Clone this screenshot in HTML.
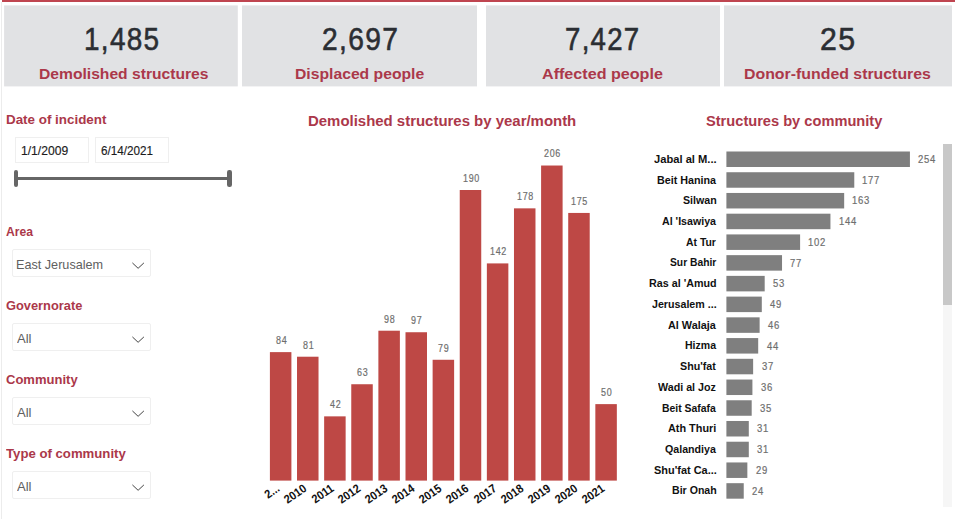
<!DOCTYPE html>
<html><head><meta charset="utf-8"><title>Dashboard</title>
<style>
html,body{margin:0;padding:0;background:#fff;}
body{width:955px;height:519px;position:relative;overflow:hidden;font-family:"Liberation Sans",sans-serif;}
.t{position:absolute;white-space:nowrap;}
.b{position:absolute;}
</style></head><body>
<div class="b" style="left:2px;top:0px;width:953px;height:2px;background:#bf4550;"></div>
<div class="b" style="left:1px;top:2px;width:1px;height:517px;background:#ececec;"></div>
<svg class="b" style="left:0;top:0" width="955" height="100"><rect x="4.1" y="5.4" width="233.70" height="81" fill="#e1e2e4"/></svg>
<div class="t" style="left:84.01px;top:22.71px;font-size:32px;line-height:32px;color:#2b2e33;transform:scaleX(0.8722);transform-origin:0 0;letter-spacing:1.5px;-webkit-text-stroke:0.6px #2b2e33;">1,485</div>
<div class="t" style="left:39.08px;top:65.90px;font-size:15px;line-height:15px;color:#ab384a;transform:scaleX(1.0427);transform-origin:0 0;font-weight:bold;">Demolished structures</div>
<svg class="b" style="left:0;top:0" width="955" height="100"><rect x="242" y="5.4" width="235.00" height="81" fill="#e1e2e4"/></svg>
<div class="t" style="left:321.59px;top:22.71px;font-size:32px;line-height:32px;color:#2b2e33;transform:scaleX(0.8811);transform-origin:0 0;letter-spacing:1.5px;-webkit-text-stroke:0.6px #2b2e33;">2,697</div>
<div class="t" style="left:295.18px;top:65.90px;font-size:15px;line-height:15px;color:#ab384a;transform:scaleX(1.0472);transform-origin:0 0;font-weight:bold;">Displaced people</div>
<svg class="b" style="left:0;top:0" width="955" height="100"><rect x="486" y="5.4" width="234.00" height="81" fill="#e1e2e4"/></svg>
<div class="t" style="left:565.32px;top:22.71px;font-size:32px;line-height:32px;color:#2b2e33;transform:scaleX(0.8619);transform-origin:0 0;letter-spacing:1.5px;-webkit-text-stroke:0.6px #2b2e33;">7,427</div>
<div class="t" style="left:542.10px;top:65.90px;font-size:15px;line-height:15px;color:#ab384a;transform:scaleX(1.0745);transform-origin:0 0;font-weight:bold;">Affected people</div>
<svg class="b" style="left:0;top:0" width="955" height="100"><rect x="724" y="5.4" width="228.00" height="81" fill="#e1e2e4"/></svg>
<div class="t" style="left:819.99px;top:22.71px;font-size:32px;line-height:32px;color:#2b2e33;transform:scaleX(0.9461);transform-origin:0 0;letter-spacing:1.5px;-webkit-text-stroke:0.6px #2b2e33;">25</div>
<div class="t" style="left:744.47px;top:65.90px;font-size:15px;line-height:15px;color:#ab384a;transform:scaleX(1.0581);transform-origin:0 0;font-weight:bold;">Donor-funded structures</div>
<div class="t" style="left:308.43px;top:113.85px;font-size:14px;line-height:14px;color:#ab384a;transform:scaleX(1.0675);transform-origin:0 0;font-weight:bold;">Demolished structures by year/month</div>
<div class="t" style="left:706.03px;top:114.05px;font-size:14px;line-height:14px;color:#ab384a;transform:scaleX(1.0444);transform-origin:0 0;font-weight:bold;">Structures by community</div>
<div class="t" style="left:6.43px;top:112.57px;font-size:13.5px;line-height:13.5px;color:#ab384a;transform:scaleX(0.9920);transform-origin:0 0;font-weight:bold;">Date of incident</div>
<div class="b" style="left:15px;top:137px;width:73.5px;height:25.5px;background:#fff;border:1px solid #efefef;box-sizing:border-box;"></div>
<div class="b" style="left:95px;top:137px;width:73.5px;height:25.5px;background:#fff;border:1px solid #efefef;box-sizing:border-box;"></div>
<div class="t" style="left:21.39px;top:145.22px;font-size:12.5px;line-height:12.5px;color:#1c1c1c;transform:scaleX(0.9698);transform-origin:0 0;-webkit-text-stroke:0.15px #1c1c1c;">1/1/2009</div>
<div class="t" style="left:101.41px;top:145.22px;font-size:12.5px;line-height:12.5px;color:#1c1c1c;transform:scaleX(0.9369);transform-origin:0 0;-webkit-text-stroke:0.15px #1c1c1c;">6/14/2021</div>
<div class="b" style="left:16px;top:176.5px;width:213px;height:3.0px;background:#666;"></div>
<div class="b" style="left:13.6px;top:170px;width:4.299999999999999px;height:16.5px;background:#666;border-radius:2.2px;"></div>
<div class="b" style="left:227.3px;top:170px;width:4.299999999999983px;height:16.5px;background:#666;border-radius:2.2px;"></div>
<div class="t" style="left:6.10px;top:224.97px;font-size:13.5px;line-height:13.5px;color:#ab384a;transform:scaleX(0.8983);transform-origin:0 0;font-weight:bold;">Area</div>
<div class="b" style="left:11.5px;top:249px;width:139.0px;height:27.5px;background:#fff;border:1px solid #efefef;box-sizing:border-box;border-radius:2px;"></div>
<div class="t" style="left:16.29px;top:257.87px;font-size:13.5px;line-height:13.5px;color:#606060;transform:scaleX(0.9361);transform-origin:0 0;">East Jerusalem</div>
<svg class="b" style="left:131px;top:261px" width="14" height="9" viewBox="0 0 14 9"><path d="M1.4 1.9 L7.1 7.3 L12.9 1.9" fill="none" stroke="#444" stroke-width="1"/></svg>
<div class="t" style="left:5.89px;top:298.97px;font-size:13.5px;line-height:13.5px;color:#ab384a;transform:scaleX(0.9507);transform-origin:0 0;font-weight:bold;">Governorate</div>
<div class="b" style="left:11.5px;top:323px;width:139.0px;height:27.5px;background:#fff;border:1px solid #efefef;box-sizing:border-box;border-radius:2px;"></div>
<div class="t" style="left:17.30px;top:331.87px;font-size:13.5px;line-height:13.5px;color:#606060;transform:scaleX(0.9665);transform-origin:0 0;">All</div>
<svg class="b" style="left:131px;top:335px" width="14" height="9" viewBox="0 0 14 9"><path d="M1.4 1.9 L7.1 7.3 L12.9 1.9" fill="none" stroke="#444" stroke-width="1"/></svg>
<div class="t" style="left:5.88px;top:372.97px;font-size:13.5px;line-height:13.5px;color:#ab384a;transform:scaleX(0.9646);transform-origin:0 0;font-weight:bold;">Community</div>
<div class="b" style="left:11.5px;top:397px;width:139.0px;height:27.5px;background:#fff;border:1px solid #efefef;box-sizing:border-box;border-radius:2px;"></div>
<div class="t" style="left:17.30px;top:405.87px;font-size:13.5px;line-height:13.5px;color:#606060;transform:scaleX(0.9665);transform-origin:0 0;">All</div>
<svg class="b" style="left:131px;top:409px" width="14" height="9" viewBox="0 0 14 9"><path d="M1.4 1.9 L7.1 7.3 L12.9 1.9" fill="none" stroke="#444" stroke-width="1"/></svg>
<div class="t" style="left:6.27px;top:446.97px;font-size:13.5px;line-height:13.5px;color:#ab384a;transform:scaleX(0.9757);transform-origin:0 0;font-weight:bold;">Type of community</div>
<div class="b" style="left:11.5px;top:471px;width:139.0px;height:27.5px;background:#fff;border:1px solid #efefef;box-sizing:border-box;border-radius:2px;"></div>
<div class="t" style="left:17.30px;top:479.87px;font-size:13.5px;line-height:13.5px;color:#606060;transform:scaleX(0.9665);transform-origin:0 0;">All</div>
<svg class="b" style="left:131px;top:483px" width="14" height="9" viewBox="0 0 14 9"><path d="M1.4 1.9 L7.1 7.3 L12.9 1.9" fill="none" stroke="#444" stroke-width="1"/></svg>
<div class="t" style="left:275.69px;top:334.91px;font-size:11px;line-height:11px;color:#6e6e6e;transform:scaleX(0.8137);transform-origin:0 0;letter-spacing:0.8px;-webkit-text-stroke:0.2px #6e6e6e;">84</div>
<div class="t" style="left:257.67px;top:482.40px;width:16.68px;font-size:12px;line-height:12px;font-weight:bold;color:#111;text-align:right;transform-origin:100% 0;transform:rotate(-35deg) scaleX(0.91);">2...</div>
<div class="t" style="left:302.90px;top:339.50px;font-size:11px;line-height:11px;color:#6e6e6e;transform:scaleX(0.8137);transform-origin:0 0;letter-spacing:0.8px;-webkit-text-stroke:0.2px #6e6e6e;">81</div>
<div class="t" style="left:274.77px;top:482.40px;width:26.70px;font-size:12px;line-height:12px;font-weight:bold;color:#111;text-align:right;transform-origin:100% 0;transform:rotate(-35deg) scaleX(0.91);">2010</div>
<div class="t" style="left:330.11px;top:399.15px;font-size:11px;line-height:11px;color:#6e6e6e;transform:scaleX(0.8137);transform-origin:0 0;letter-spacing:0.8px;-webkit-text-stroke:0.2px #6e6e6e;">42</div>
<div class="t" style="left:302.56px;top:482.40px;width:26.03px;font-size:12px;line-height:12px;font-weight:bold;color:#111;text-align:right;transform-origin:100% 0;transform:rotate(-35deg) scaleX(0.91);">2011</div>
<div class="t" style="left:357.07px;top:367.03px;font-size:11px;line-height:11px;color:#6e6e6e;transform:scaleX(0.8137);transform-origin:0 0;letter-spacing:0.8px;-webkit-text-stroke:0.2px #6e6e6e;">63</div>
<div class="t" style="left:329.01px;top:482.40px;width:26.70px;font-size:12px;line-height:12px;font-weight:bold;color:#111;text-align:right;transform-origin:100% 0;transform:rotate(-35deg) scaleX(0.91);">2012</div>
<div class="t" style="left:384.21px;top:313.50px;font-size:11px;line-height:11px;color:#6e6e6e;transform:scaleX(0.8137);transform-origin:0 0;letter-spacing:0.8px;-webkit-text-stroke:0.2px #6e6e6e;">98</div>
<div class="t" style="left:356.13px;top:482.40px;width:26.70px;font-size:12px;line-height:12px;font-weight:bold;color:#111;text-align:right;transform-origin:100% 0;transform:rotate(-35deg) scaleX(0.91);">2013</div>
<div class="t" style="left:411.36px;top:315.03px;font-size:11px;line-height:11px;color:#6e6e6e;transform:scaleX(0.8137);transform-origin:0 0;letter-spacing:0.8px;-webkit-text-stroke:0.2px #6e6e6e;">97</div>
<div class="t" style="left:383.25px;top:482.40px;width:26.70px;font-size:12px;line-height:12px;font-weight:bold;color:#111;text-align:right;transform-origin:100% 0;transform:rotate(-35deg) scaleX(0.91);">2014</div>
<div class="t" style="left:438.45px;top:342.56px;font-size:11px;line-height:11px;color:#6e6e6e;transform:scaleX(0.8137);transform-origin:0 0;letter-spacing:0.8px;-webkit-text-stroke:0.2px #6e6e6e;">79</div>
<div class="t" style="left:410.37px;top:482.40px;width:26.70px;font-size:12px;line-height:12px;font-weight:bold;color:#111;text-align:right;transform-origin:100% 0;transform:rotate(-35deg) scaleX(0.91);">2015</div>
<div class="t" style="left:462.61px;top:172.78px;font-size:11px;line-height:11px;color:#6e6e6e;transform:scaleX(0.8137);transform-origin:0 0;letter-spacing:0.8px;-webkit-text-stroke:0.2px #6e6e6e;">190</div>
<div class="t" style="left:437.49px;top:482.40px;width:26.70px;font-size:12px;line-height:12px;font-weight:bold;color:#111;text-align:right;transform-origin:100% 0;transform:rotate(-35deg) scaleX(0.91);">2016</div>
<div class="t" style="left:489.77px;top:246.20px;font-size:11px;line-height:11px;color:#6e6e6e;transform:scaleX(0.8137);transform-origin:0 0;letter-spacing:0.8px;-webkit-text-stroke:0.2px #6e6e6e;">142</div>
<div class="t" style="left:464.61px;top:482.40px;width:26.70px;font-size:12px;line-height:12px;font-weight:bold;color:#111;text-align:right;transform-origin:100% 0;transform:rotate(-35deg) scaleX(0.91);">2017</div>
<div class="t" style="left:516.87px;top:191.14px;font-size:11px;line-height:11px;color:#6e6e6e;transform:scaleX(0.8137);transform-origin:0 0;letter-spacing:0.8px;-webkit-text-stroke:0.2px #6e6e6e;">178</div>
<div class="t" style="left:491.73px;top:482.40px;width:26.70px;font-size:12px;line-height:12px;font-weight:bold;color:#111;text-align:right;transform-origin:100% 0;transform:rotate(-35deg) scaleX(0.91);">2018</div>
<div class="t" style="left:544.10px;top:148.31px;font-size:11px;line-height:11px;color:#6e6e6e;transform:scaleX(0.8137);transform-origin:0 0;letter-spacing:0.8px;-webkit-text-stroke:0.2px #6e6e6e;">206</div>
<div class="t" style="left:518.85px;top:482.40px;width:26.70px;font-size:12px;line-height:12px;font-weight:bold;color:#111;text-align:right;transform-origin:100% 0;transform:rotate(-35deg) scaleX(0.91);">2019</div>
<div class="t" style="left:571.11px;top:195.73px;font-size:11px;line-height:11px;color:#6e6e6e;transform:scaleX(0.8137);transform-origin:0 0;letter-spacing:0.8px;-webkit-text-stroke:0.2px #6e6e6e;">175</div>
<div class="t" style="left:545.97px;top:482.40px;width:26.70px;font-size:12px;line-height:12px;font-weight:bold;color:#111;text-align:right;transform-origin:100% 0;transform:rotate(-35deg) scaleX(0.91);">2020</div>
<div class="t" style="left:601.17px;top:386.91px;font-size:11px;line-height:11px;color:#6e6e6e;transform:scaleX(0.8137);transform-origin:0 0;letter-spacing:0.8px;-webkit-text-stroke:0.2px #6e6e6e;">50</div>
<div class="t" style="left:573.09px;top:482.40px;width:26.70px;font-size:12px;line-height:12px;font-weight:bold;color:#111;text-align:right;transform-origin:100% 0;transform:rotate(-35deg) scaleX(0.91);">2021</div>
<svg class="b" style="left:0;top:0" width="955" height="519" fill="#be4845"><rect x="269.90" y="352.12" width="21.5" height="128.48"/><rect x="297.02" y="356.71" width="21.5" height="123.89"/><rect x="324.14" y="416.36" width="21.5" height="64.24"/><rect x="351.26" y="384.24" width="21.5" height="96.36"/><rect x="378.38" y="330.71" width="21.5" height="149.89"/><rect x="405.50" y="332.24" width="21.5" height="148.36"/><rect x="432.62" y="359.77" width="21.5" height="120.83"/><rect x="459.74" y="190.00" width="21.5" height="290.61"/><rect x="486.86" y="263.41" width="21.5" height="217.19"/><rect x="513.98" y="208.35" width="21.5" height="272.25"/><rect x="541.10" y="165.52" width="21.5" height="315.08"/><rect x="568.22" y="212.94" width="21.5" height="267.66"/><rect x="595.34" y="404.12" width="21.5" height="76.48"/></svg>
<div class="t" style="left:654.03px;top:153.77px;font-size:11.2px;line-height:11.2px;color:#111;transform:scaleX(0.9978);transform-origin:0 0;font-weight:bold;">Jabal al M...</div>
<div class="t" style="left:918.24px;top:153.94px;font-size:11px;line-height:11px;color:#6e6e6e;transform:scaleX(0.8613);transform-origin:0 0;letter-spacing:0.8px;-webkit-text-stroke:0.2px #6e6e6e;">254</div>
<div class="t" style="left:656.80px;top:174.50px;font-size:11.2px;line-height:11.2px;color:#111;transform:scaleX(0.9593);transform-origin:0 0;font-weight:bold;">Beit Hanina</div>
<div class="t" style="left:862.37px;top:174.67px;font-size:11px;line-height:11px;color:#6e6e6e;transform:scaleX(0.8613);transform-origin:0 0;letter-spacing:0.8px;-webkit-text-stroke:0.2px #6e6e6e;">177</div>
<div class="t" style="left:682.93px;top:195.23px;font-size:11.2px;line-height:11.2px;color:#111;transform:scaleX(0.9508);transform-origin:0 0;font-weight:bold;">Silwan</div>
<div class="t" style="left:852.26px;top:195.40px;font-size:11px;line-height:11px;color:#6e6e6e;transform:scaleX(0.8613);transform-origin:0 0;letter-spacing:0.8px;-webkit-text-stroke:0.2px #6e6e6e;">163</div>
<div class="t" style="left:661.83px;top:215.96px;font-size:11.2px;line-height:11.2px;color:#111;transform:scaleX(0.9511);transform-origin:0 0;font-weight:bold;">Al 'Isawiya</div>
<div class="t" style="left:838.53px;top:216.13px;font-size:11px;line-height:11px;color:#6e6e6e;transform:scaleX(0.8613);transform-origin:0 0;letter-spacing:0.8px;-webkit-text-stroke:0.2px #6e6e6e;">144</div>
<div class="t" style="left:686.24px;top:236.69px;font-size:11.2px;line-height:11.2px;color:#111;transform:scaleX(0.9307);transform-origin:0 0;font-weight:bold;">At Tur</div>
<div class="t" style="left:808.18px;top:236.86px;font-size:11px;line-height:11px;color:#6e6e6e;transform:scaleX(0.8613);transform-origin:0 0;letter-spacing:0.8px;-webkit-text-stroke:0.2px #6e6e6e;">102</div>
<div class="t" style="left:669.84px;top:257.42px;font-size:11.2px;line-height:11.2px;color:#111;transform:scaleX(0.9189);transform-origin:0 0;font-weight:bold;">Sur Bahir</div>
<div class="t" style="left:790.36px;top:257.59px;font-size:11px;line-height:11px;color:#6e6e6e;transform:scaleX(0.8613);transform-origin:0 0;letter-spacing:0.8px;-webkit-text-stroke:0.2px #6e6e6e;">77</div>
<div class="t" style="left:649.00px;top:278.15px;font-size:11.2px;line-height:11.2px;color:#111;transform:scaleX(0.9602);transform-origin:0 0;font-weight:bold;">Ras al 'Amud</div>
<div class="t" style="left:773.11px;top:278.32px;font-size:11px;line-height:11px;color:#6e6e6e;transform:scaleX(0.8613);transform-origin:0 0;letter-spacing:0.8px;-webkit-text-stroke:0.2px #6e6e6e;">53</div>
<div class="t" style="left:652.04px;top:298.88px;font-size:11.2px;line-height:11.2px;color:#111;transform:scaleX(0.9534);transform-origin:0 0;font-weight:bold;">Jerusalem ...</div>
<div class="t" style="left:770.41px;top:299.05px;font-size:11px;line-height:11px;color:#6e6e6e;transform:scaleX(0.8613);transform-origin:0 0;letter-spacing:0.8px;-webkit-text-stroke:0.2px #6e6e6e;">49</div>
<div class="t" style="left:668.03px;top:319.61px;font-size:11.2px;line-height:11.2px;color:#111;transform:scaleX(0.9690);transform-origin:0 0;font-weight:bold;">Al Walaja</div>
<div class="t" style="left:768.25px;top:319.78px;font-size:11px;line-height:11px;color:#6e6e6e;transform:scaleX(0.8613);transform-origin:0 0;letter-spacing:0.8px;-webkit-text-stroke:0.2px #6e6e6e;">46</div>
<div class="t" style="left:684.81px;top:340.34px;font-size:11.2px;line-height:11.2px;color:#111;transform:scaleX(0.9423);transform-origin:0 0;font-weight:bold;">Hizma</div>
<div class="t" style="left:766.80px;top:340.51px;font-size:11px;line-height:11px;color:#6e6e6e;transform:scaleX(0.8613);transform-origin:0 0;letter-spacing:0.8px;-webkit-text-stroke:0.2px #6e6e6e;">44</div>
<div class="t" style="left:680.23px;top:361.07px;font-size:11.2px;line-height:11.2px;color:#111;transform:scaleX(0.9562);transform-origin:0 0;font-weight:bold;">Shu'fat</div>
<div class="t" style="left:761.60px;top:361.24px;font-size:11px;line-height:11px;color:#6e6e6e;transform:scaleX(0.8613);transform-origin:0 0;letter-spacing:0.8px;-webkit-text-stroke:0.2px #6e6e6e;">37</div>
<div class="t" style="left:658.40px;top:381.80px;font-size:11.2px;line-height:11.2px;color:#111;transform:scaleX(0.9568);transform-origin:0 0;font-weight:bold;">Wadi al Joz</div>
<div class="t" style="left:760.88px;top:381.97px;font-size:11px;line-height:11px;color:#6e6e6e;transform:scaleX(0.8613);transform-origin:0 0;letter-spacing:0.8px;-webkit-text-stroke:0.2px #6e6e6e;">36</div>
<div class="t" style="left:662.02px;top:402.53px;font-size:11.2px;line-height:11.2px;color:#111;transform:scaleX(0.9304);transform-origin:0 0;font-weight:bold;">Beit Safafa</div>
<div class="t" style="left:760.16px;top:402.70px;font-size:11px;line-height:11px;color:#6e6e6e;transform:scaleX(0.8613);transform-origin:0 0;letter-spacing:0.8px;-webkit-text-stroke:0.2px #6e6e6e;">35</div>
<div class="t" style="left:668.43px;top:423.26px;font-size:11.2px;line-height:11.2px;color:#111;transform:scaleX(0.9709);transform-origin:0 0;font-weight:bold;">Ath Thuri</div>
<div class="t" style="left:757.27px;top:423.43px;font-size:11px;line-height:11px;color:#6e6e6e;transform:scaleX(0.8613);transform-origin:0 0;letter-spacing:0.8px;-webkit-text-stroke:0.2px #6e6e6e;">31</div>
<div class="t" style="left:664.97px;top:443.99px;font-size:11.2px;line-height:11.2px;color:#111;transform:scaleX(0.9511);transform-origin:0 0;font-weight:bold;">Qalandiya</div>
<div class="t" style="left:757.27px;top:444.16px;font-size:11px;line-height:11px;color:#6e6e6e;transform:scaleX(0.8613);transform-origin:0 0;letter-spacing:0.8px;-webkit-text-stroke:0.2px #6e6e6e;">31</div>
<div class="t" style="left:653.93px;top:464.72px;font-size:11.2px;line-height:11.2px;color:#111;transform:scaleX(0.9775);transform-origin:0 0;font-weight:bold;">Shu'fat Ca...</div>
<div class="t" style="left:755.68px;top:464.89px;font-size:11px;line-height:11px;color:#6e6e6e;transform:scaleX(0.8613);transform-origin:0 0;letter-spacing:0.8px;-webkit-text-stroke:0.2px #6e6e6e;">29</div>
<div class="t" style="left:671.91px;top:485.45px;font-size:11.2px;line-height:11.2px;color:#111;transform:scaleX(0.9463);transform-origin:0 0;font-weight:bold;">Bir Onah</div>
<div class="t" style="left:752.07px;top:485.62px;font-size:11px;line-height:11px;color:#6e6e6e;transform:scaleX(0.8613);transform-origin:0 0;letter-spacing:0.8px;-webkit-text-stroke:0.2px #6e6e6e;">24</div>
<svg class="b" style="left:0;top:0" width="955" height="519" fill="#7f7f7f"><rect x="726.40" y="151.50" width="183.52" height="15.5"/><rect x="726.40" y="172.23" width="127.88" height="15.5"/><rect x="726.40" y="192.96" width="117.77" height="15.5"/><rect x="726.40" y="213.69" width="104.04" height="15.5"/><rect x="726.40" y="234.42" width="73.70" height="15.5"/><rect x="726.40" y="255.15" width="55.63" height="15.5"/><rect x="726.40" y="275.88" width="38.29" height="15.5"/><rect x="726.40" y="296.61" width="35.40" height="15.5"/><rect x="726.40" y="317.34" width="33.23" height="15.5"/><rect x="726.40" y="338.07" width="31.79" height="15.5"/><rect x="726.40" y="358.80" width="26.73" height="15.5"/><rect x="726.40" y="379.53" width="26.01" height="15.5"/><rect x="726.40" y="400.26" width="25.29" height="15.5"/><rect x="726.40" y="420.99" width="22.40" height="15.5"/><rect x="726.40" y="441.72" width="22.40" height="15.5"/><rect x="726.40" y="462.45" width="20.95" height="15.5"/><rect x="726.40" y="483.18" width="17.34" height="15.5"/></svg>
<div class="b" style="left:943px;top:144px;width:9px;height:363px;background:#f6f6f6;"></div>
<div class="b" style="left:943px;top:144px;width:9px;height:160.5px;background:#c8c8c8;"></div>
</body></html>
